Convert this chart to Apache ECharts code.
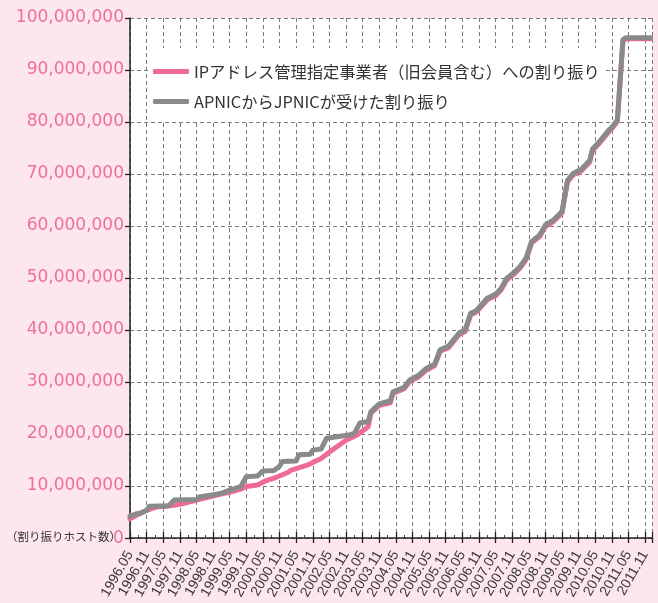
<!DOCTYPE html>
<html>
<head>
<meta charset="utf-8">
<style>
html,body{margin:0;padding:0;background:#FDE6EE;}
#c{width:658px;height:603px;}
</style>
<script src="https://cdn.jsdelivr.net/npm/echarts@6/dist/echarts.min.js"></script>
</head>
<body>
<div id="c"></div>
<script>
// Tick labels on the x axis (every 6 months)
const tickLabels = ['1996.05','1996.11','1997.05','1997.11','1998.05','1998.11','1999.05','1999.11',
  '2000.05','2000.11','2001.05','2001.11','2002.05','2002.11','2003.05','2003.11','2004.05','2004.11',
  '2005.05','2005.11','2006.05','2006.11','2007.05','2007.11','2008.05','2008.11','2009.05','2009.11',
  '2010.05','2010.11','2011.05','2011.11'];

const seriesNames = ['IPアドレス管理指定事業者（旧会員含む）への割り振り', 'APNICからJPNICが受けた割り振り'];

// IPアドレス管理指定事業者への割り振り (pink)
const pinkDates = ['1996.05','1996.10','1997.01','1997.03','1997.06','1997.09','1997.11','1998.03','1998.05','1998.09',
  '1999.03','1999.05','1999.09','1999.11','2000.03','2000.06','2000.09','2001.02','2001.03','2001.09',
  '2002.02','2002.06','2002.11','2003.03','2003.07','2003.08','2003.11','2004.03','2004.04','2004.08',
  '2004.10','2005.01','2005.04','2005.07','2005.09','2005.12','2006.02','2006.04','2006.06','2006.08',
  '2006.10','2007.02','2007.05','2007.07','2007.09','2007.12','2008.02','2008.04','2008.06','2008.09',
  '2008.11','2009.02','2009.05','2009.07','2009.09','2009.12','2010.03','2010.04','2010.06','2010.08',
  '2010.10','2010.11','2011.01','2011.03','2011.04','2012.01'];
const pinkValues = [3700000,5100000,5700000,6000000,6100000,6300000,6500000,7000000,7300000,7800000,
  8600000,8800000,9400000,9900000,10200000,11000000,11500000,12600000,13000000,14000000,
  15300000,16900000,18800000,19800000,21400000,24000000,25500000,26000000,27800000,28700000,
  30100000,30900000,32300000,33100000,35900000,36600000,37900000,39200000,39700000,42900000,
  43400000,45800000,46600000,47700000,49600000,50900000,52000000,53500000,56700000,58000000,
  59900000,60900000,62500000,68500000,69800000,70600000,72300000,74500000,75600000,76900000,
  78200000,78700000,80100000,95600000,96000000,96000000];

// APNICからJPNICが受けた割り振り (gray)
const grayDates = ['1996.05','1996.07','1996.09','1996.11','1996.12','1997.07','1997.09','1998.05','1998.06','1998.11',
  '1999.02','1999.05','1999.09','1999.11','2000.03','2000.05','2000.09','2000.11','2000.12','2001.05',
  '2001.06','2001.10','2001.11','2002.02','2002.04','2002.12','2003.02','2003.04','2003.07','2003.08',
  '2003.11','2004.03','2004.04','2004.08','2004.10','2005.01','2005.04','2005.07','2005.09','2005.12',
  '2006.02','2006.04','2006.06','2006.08','2006.10','2007.02','2007.05','2007.07','2007.09','2007.12',
  '2008.02','2008.04','2008.06','2008.09','2008.11','2009.02','2009.05','2009.07','2009.09','2009.12',
  '2010.03','2010.04','2010.06','2010.08','2010.10','2010.11','2011.01','2011.03','2011.04','2012.01'];
const grayValues = [4200000,4600000,4800000,5300000,6100000,6200000,7300000,7400000,7900000,8300000,
  8600000,9200000,9900000,11800000,11900000,12900000,13000000,13800000,14700000,14800000,
  16000000,16100000,16900000,17100000,19200000,19800000,20100000,22100000,22400000,24300000,
  25800000,26400000,28100000,29000000,30400000,31200000,32600000,33400000,36200000,36900000,
  38200000,39500000,40000000,43200000,43700000,46100000,46900000,48000000,49900000,51200000,
  52300000,53800000,57000000,58300000,60200000,61200000,62800000,68800000,70100000,70900000,
  72600000,74800000,75900000,77200000,78500000,79000000,80400000,95800000,96200000,96200000];

function toIdx(s){ const p = s.split('.').map(Number); return (p[0]-1996)*12 + (p[1]-5); }
function pairs(d, v){ return d.map((s,i)=>[toIdx(s), v[i]]); }

const chart = echarts.init(document.getElementById('c'));
const axisColor = '#222';
const pinkText = '#EE7099';
const gridLine = {show:true, lineStyle:{type:[4,3], color:'#7a7a7a', width:1}};
const option = {
  animation:false,
  backgroundColor:'#FDE6EE',
  textStyle:{fontFamily:'"Noto Sans CJK JP", sans-serif'},
  grid:{left:130, top:18, right:6, bottom:65, show:true, backgroundColor:'#ffffff', borderWidth:0},
  legend:{
    left:148, top:48, orient:'vertical', backgroundColor:'#ffffff',
    padding:[14,5,9,5], itemGap:11, itemWidth:36, itemHeight:5, icon:'roundRect',
    textStyle:{fontSize:16.3, color:'#333', lineHeight:19, fontFamily:'"Noto Sans CJK JP", sans-serif'},
    data:seriesNames
  },
  xAxis:[{
    type:'value', min:0, max:188.5, interval:6,
    axisLine:{show:true, lineStyle:{color:axisColor, width:1.5}},
    axisTick:{show:true, length:5, lineStyle:{color:axisColor, width:1.3}},
    axisLabel:{rotate:60, margin:14, fontSize:14, color:'#3a3a3a', fontFamily:'"Liberation Sans", Arial, sans-serif',
      showMinLabel:true,
      formatter:function(v){ const i = v/6; return (Number.isInteger(i) && tickLabels[i]) ? tickLabels[i] : ''; }},
    splitLine:gridLine
  },{
    type:'value', min:0, max:188.5, interval:6, position:'bottom',
    axisLine:{show:false},
    axisTick:{show:true, inside:true, length:6, lineStyle:{color:axisColor, width:1.3}},
    minorTick:{show:true, splitNumber:2, length:3, lineStyle:{color:'#444', width:1}},
    axisLabel:{show:false}, splitLine:{show:false}
  }],
  yAxis:[{
    type:'value', min:0, max:100000000, interval:10000000,
    axisLine:{show:true, lineStyle:{color:axisColor, width:1.5}},
    axisTick:{show:true, length:5, lineStyle:{color:axisColor, width:1.3}},
    axisLabel:{color:pinkText, fontSize:17, margin:6, fontFamily:'"DejaVu Sans", sans-serif',
      formatter:function(v){ return v === 0 ? '' : v.toLocaleString('en-US'); }},
    splitLine:gridLine
  }],
  graphic:[
    {type:'text', left:6, top:531, z:100,
      style:{text:'（割り振りホスト数）', fontSize:11.5, fill:'#333', fontFamily:'"Noto Sans CJK JP", sans-serif'}},
    {type:'text', x:118.5, y:539, z:200, zlevel:2, silent:true,
      style:{text:'0', font:'17px "DejaVu Sans", sans-serif', fill:pinkText, align:'center', verticalAlign:'middle', opacity:1}}
  ],
  series:[{
    name:seriesNames[0], type:'line', xAxisIndex:0, data:pairs(pinkDates, pinkValues),
    showSymbol:false, color:'#EE6A97', lineStyle:{width:5, color:'#EE6A97', join:'round', cap:'round'}
  },{
    name:seriesNames[1], type:'line', xAxisIndex:0, data:pairs(grayDates, grayValues),
    showSymbol:false, color:'#8A8A8A', lineStyle:{width:5, color:'#8A8A8A', join:'round', cap:'round'}
  }]
};
chart.setOption(option);
</script>
</body>
</html>
